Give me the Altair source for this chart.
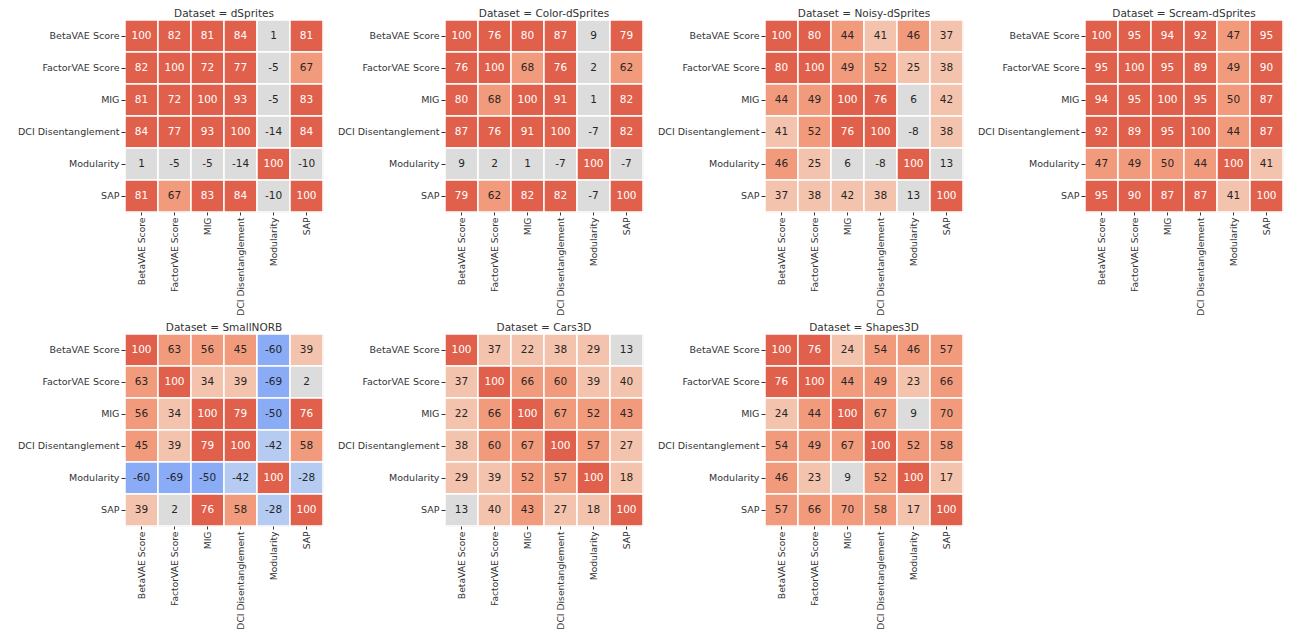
import altair as alt
import pandas as pd

metrics = ["BetaVAE Score", "FactorVAE Score", "MIG", "DCI Disentanglement", "Modularity", "SAP"]
datasets = ["dSprites", "Color-dSprites", "Noisy-dSprites", "Scream-dSprites", "SmallNORB", "Cars3D", "Shapes3D"]

dsprites = [[100, 82, 81, 84, 1, 81], [82, 100, 72, 77, -5, 67], [81, 72, 100, 93, -5, 83],
            [84, 77, 93, 100, -14, 84], [1, -5, -5, -14, 100, -10], [81, 67, 83, 84, -10, 100]]
color_dsprites = [[100, 76, 80, 87, 9, 79], [76, 100, 68, 76, 2, 62], [80, 68, 100, 91, 1, 82],
                  [87, 76, 91, 100, -7, 82], [9, 2, 1, -7, 100, -7], [79, 62, 82, 82, -7, 100]]
noisy_dsprites = [[100, 80, 44, 41, 46, 37], [80, 100, 49, 52, 25, 38], [44, 49, 100, 76, 6, 42],
                  [41, 52, 76, 100, -8, 38], [46, 25, 6, -8, 100, 13], [37, 38, 42, 38, 13, 100]]
scream_dsprites = [[100, 95, 94, 92, 47, 95], [95, 100, 95, 89, 49, 90], [94, 95, 100, 95, 50, 87],
                   [92, 89, 95, 100, 44, 87], [47, 49, 50, 44, 100, 41], [95, 90, 87, 87, 41, 100]]
smallnorb = [[100, 63, 56, 45, -60, 39], [63, 100, 34, 39, -69, 2], [56, 34, 100, 79, -50, 76],
             [45, 39, 79, 100, -42, 58], [-60, -69, -50, -42, 100, -28], [39, 2, 76, 58, -28, 100]]
cars3d = [[100, 37, 22, 38, 29, 13], [37, 100, 66, 60, 39, 40], [22, 66, 100, 67, 52, 43],
          [38, 60, 67, 100, 57, 27], [29, 39, 52, 57, 100, 18], [13, 40, 43, 27, 18, 100]]
shapes3d = [[100, 76, 24, 54, 46, 57], [76, 100, 44, 49, 23, 66], [24, 44, 100, 67, 9, 70],
            [54, 49, 67, 100, 52, 58], [46, 23, 9, 52, 100, 17], [57, 66, 70, 58, 17, 100]]
matrices = [dsprites, color_dsprites, noisy_dsprites, scream_dsprites, smallnorb, cars3d, shapes3d]

rows = []
for name, mat in zip(datasets, matrices):
    for i, r in enumerate(metrics):
        for j, c in enumerate(metrics):
            v = mat[i][j]
            rows.append({"Dataset": name, "row": r, "col": c, "value": v, "label": str(v)})
df = pd.DataFrame(rows)

edges = [-100 + 200 / 7 * k for k in range(1, 7)]
colors = ["#4f86c6", "#8aacf7", "#b6cbf2", "#dcdcdc", "#f4c3ad", "#f29b7c", "#e0604c"]
color_scale = alt.Scale(type="threshold", domain=edges, range=colors)

base = alt.Chart().encode(
    x=alt.X("col:N", sort=metrics, title=None,
            axis=alt.Axis(labelAngle=-90, labelFontSize=9.2, labelColor="#333", tickColor="#333",
                          domain=False, labelPadding=2, tickSize=3)),
    y=alt.Y("row:N", sort=metrics, title=None,
            axis=alt.Axis(labelFontSize=9.5, labelColor="#333", tickColor="#333", domain=False,
                          labelPadding=2, tickSize=4)),
)
rect = base.mark_rect(stroke="white", strokeWidth=1.5).encode(
    color=alt.Color("value:Q", scale=color_scale, legend=None)
)
text = base.mark_text(fontSize=10.5, font="DejaVu Sans").encode(
    text="label:N",
    color=alt.condition(alt.datum.value > 71.4, alt.value("white"), alt.value("#262626")),
)

chart = alt.layer(rect, text, data=df).properties(width=198, height=192).facet(
    facet=alt.Facet("Dataset:N", sort=datasets,
                    header=alt.Header(title=None, labelExpr="'Dataset = ' + datum.value",
                                      labelFontSize=10.5, labelFont="DejaVu Sans",
                                      labelColor="#333", labelPadding=0)),
    columns=4, spacing={"row": 6, "column": 12},
).resolve_axis(x="independent", y="independent").configure_view(stroke=None).configure(
    font="DejaVu Sans", padding={"left": 9, "top": 0, "right": 0, "bottom": 0}
).configure_axis(labelFont="DejaVu Sans")

chart.save("out.html", embed_options={"renderer": "svg", "actions": False})
